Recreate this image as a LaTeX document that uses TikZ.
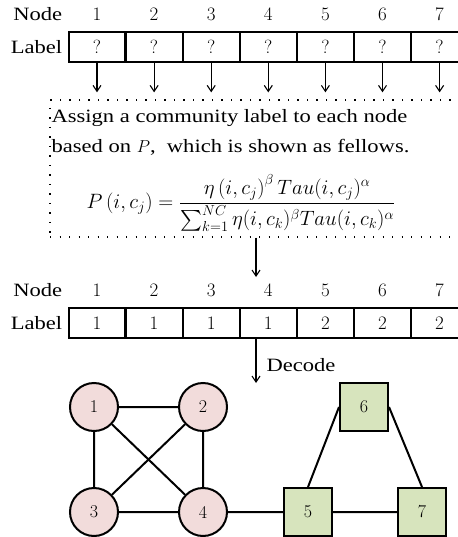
\documentclass[tikz,border=0pt]{standalone}
\usepackage{amsmath}
\usepackage{fontspec}
\setmainfont{Liberation Serif}[FakeStretch=1.2]
\usepackage{tikz}
\usetikzlibrary{positioning,arrows.meta}

\definecolor{commpink}{RGB}{242,220,219}
\definecolor{commgreen}{RGB}{215,228,189}
\newcommand{\lmnum}{\fontfamily{lmr}\selectfont}

\begin{document}
\begin{tikzpicture}[
    x=1pt, y=-1pt,
    cell/.style={rectangle, draw, line width=1.1pt, minimum width=56pt, minimum height=30pt, inner sep=0pt, font=\lmnum\fontsize{19}{22}\selectfont},
    num/.style={inner sep=2pt, text depth=0pt, font=\lmnum\fontsize{19}{22}\selectfont},
    head/.style={inner sep=0pt, font=\fontsize{18.8}{30}\selectfont},
    dotbox/.style={rectangle, draw, dash pattern=on 1.3pt off 8.2pt, line width=1.3pt, minimum width=412pt, minimum height=137pt},
    arr/.style={-{Straight Barb[length=6pt, width=8pt]}, line width=1.1pt},
    commA/.style={circle, draw, line width=2pt, fill=commpink, minimum size=48pt, inner sep=0pt, font=\lmnum\fontsize{18}{20}\selectfont},
    commB/.style={rectangle, draw, line width=2pt, fill=commgreen, minimum size=48pt, inner sep=0pt, font=\lmnum\fontsize{18}{20}\selectfont},
    edge/.style={line width=2pt}
]
\useasboundingbox (0,0) rectangle (457,537);

% Unknown labels
\node[cell, label={[num, name=n1, label distance=9pt]above:1}] (q1) at (97,47) {?};
\node[cell, right=0pt of q1, label={[num, label distance=9pt]above:2}] (q2) {?};
\node[cell, right=0pt of q2, label={[num, label distance=9pt]above:3}] (q3) {?};
\node[cell, right=0pt of q3, label={[num, label distance=9pt]above:4}] (q4) {?};
\node[cell, right=0pt of q4, label={[num, label distance=9pt]above:5}] (q5) {?};
\node[cell, right=0pt of q5, label={[num, label distance=9pt]above:6}] (q6) {?};
\node[cell, right=0pt of q6, label={[num, label distance=9pt]above:7}] (q7) {?};
\node[head, left=6pt of q1] (lab1) {Label};
\node[head, anchor=base east] (hdr1) at (lab1.east |- n1.base) {Node};

% Assignment step
\node[dotbox] (box) at (256,168.5) {};
\node[head, anchor=north west, align=left] (assign) at ([shift={(2,10)}]box.north west)
    {Assign a community label to each node\\based on $P$,\ \ which is shown as fellows.};
\node[font=\fontsize{20}{24}\selectfont] (eq) at (241,203)
    {$P\left(i,c_j\right)=\dfrac{\eta\left(i,c_j\right)^{\beta}Tau(i,c_j)^{\alpha}}{\sum_{k=1}^{NC}\eta(i,c_k)^{\beta}Tau(i,c_k)^{\alpha}}$};

\draw[arr, shorten >=7pt] (q1.south) -- (q1.south |- box.north);
\draw[arr, shorten >=7pt] (q2.south) -- (q2.south |- box.north);
\draw[arr, shorten >=7pt] (q3.south) -- (q3.south |- box.north);
\draw[arr, shorten >=7pt] (q4.south) -- (q4.south |- box.north);
\draw[arr, shorten >=7pt] (q5.south) -- (q5.south |- box.north);
\draw[arr, shorten >=7pt] (q6.south) -- (q6.south |- box.north);
\draw[arr, shorten >=7pt] (q7.south) -- (q7.south |- box.north);

% Decoded labels
\node[cell, label={[num, name=m1, label distance=9pt]above:1}] (l1) at (97,323) {1};
\node[cell, right=0pt of l1, label={[num, label distance=9pt]above:2}] (l2) {1};
\node[cell, right=0pt of l2, label={[num, label distance=9pt]above:3}] (l3) {1};
\node[cell, right=0pt of l3, label={[num, label distance=9pt]above:4}] (l4) {1};
\node[cell, right=0pt of l4, label={[num, label distance=9pt]above:5}] (l5) {2};
\node[cell, right=0pt of l5, label={[num, label distance=9pt]above:6}] (l6) {2};
\node[cell, right=0pt of l6, label={[num, label distance=9pt]above:7}] (l7) {2};
\node[head, left=6pt of l1] (lab2) {Label};
\node[head, anchor=base east] (hdr2) at (lab2.east |- m1.base) {Node};

\coordinate (into) at (256,277);
\coordinate (decoded) at (256,383);
\draw[arr] (box.south) -- (into);
\draw[arr] (box.south |- l1.south) -- node[head, right=10pt, pos=0.6] (dec) {Decode} (decoded);

% Communities
\node[commA] (c1) at (94,407) {1};
\node[commA] (c2) at (203,407) {2};
\node[commA] (c3) at (94,512) {3};
\node[commA] (c4) at (203,512) {4};
\node[commB] (s5) at (308,512) {5};
\node[commB] (s6) at (364,407) {6};
\node[commB] (s7) at (422,512) {7};

\draw[edge] (c1) -- (c2) (c1) -- (c3) (c1) -- (c4) (c2) -- (c3) (c2) -- (c4) (c3) -- (c4);
\draw[edge] (c4) -- (s5) (s5) -- (s7) (s5.north) -- (s6.west) (s6.east) -- (s7.north);

\end{tikzpicture}
\end{document}
